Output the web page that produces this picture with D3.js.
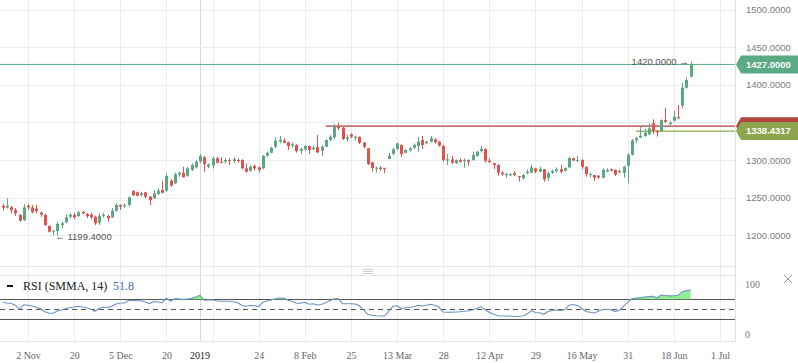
<!DOCTYPE html>
<html>
<head>
<meta charset="utf-8">
<script src="https://cdn.jsdelivr.net/npm/d3@7"></script>
<style>
  body { margin: 0; background: #fff; }
  svg { display: block; }
</style>
</head>
<body>
<svg id="chart" width="798" height="363"></svg>
<script>
// Daily candles, bar index 0 = first visible day
const opens = [1239.3,1237.0,1237.2,1233.6,1227.0,1220.3,1239.3,1237.0,1235.6,1230.3,
1227.0,1212.4,1204.8,1205.7,1213.7,1217.3,1224.7,1227.0,1225.6,1231.0,
1228.3,1227.4,1224.7,1216.7,1225.6,1225.6,1223.9,1232.7,1240.3,1238.6,
1240.3,1258.5,1257.1,1253.5,1257.1,1251.3,1249.2,1254.9,1260.2,1259.3,
1272.5,1269.1,1281.0,1283.2,1279.2,1286.8,1290.3,1297.8,1303.6,1291.1,
1292.7,1302.3,1297.8,1297.8,1300.0,1298.7,1300.0,1300.0,1289.0,1285.8,
1292.1,1290.3,1289.0,1305.8,1309.7,1317.7,1324.4,1325.7,1323.6,1319.0,
1320.0,1312.4,1314.3,1318.6,1314.3,1316.9,1312.4,1317.7,1326.6,1330.2,
1345.2,1343.0,1327.9,1334.2,1329.7,1331.0,1323.0,1315.6,1297.0,1289.0,
1289.8,1289.0,1301.4,1308.0,1314.7,1320.0,1309.7,1313.3,1316.4,1318.6,
1326.6,1322.2,1324.4,1327.5,1324.4,1318.6,1299.1,1301.0,1295.7,1300.0,
1298.7,1300.0,1300.0,1305.4,1312.0,1314.7,1299.1,1295.7,1293.4,1283.2,
1280.1,1279.7,1282.4,1278.8,1275.7,1282.4,1283.2,1289.0,1284.5,1287.7,
1276.5,1283.2,1285.4,1287.7,1285.8,1290.3,1302.3,1298.7,1300.0,1290.7,
1280.1,1280.1,1279.0,1276.5,1284.8,1287.7,1286.8,1283.7,1282.8,1292.5,
1307.1,1326.2,1329.7,1331.9,1334.2,1348.8,1338.6,1338.6,1353.2,1347.9,
1352.3,1356.8,1372.2,1396.1,1410.7];

const highs = [1242.2,1249.2,1239.0,1236.3,1228.3,1241.6,1241.6,1240.3,1240.3,1231.6,
1228.3,1213.0,1207.0,1218.0,1218.0,1228.3,1229.2,1230.0,1232.7,1232.3,
1229.6,1230.0,1226.3,1229.2,1230.0,1227.6,1235.9,1242.5,1241.2,1242.5,
1251.3,1260.2,1258.2,1257.5,1257.5,1252.2,1260.2,1262.2,1272.5,1282.4,
1274.4,1283.2,1284.5,1291.1,1291.1,1295.7,1300.0,1308.0,1305.4,1295.7,
1304.4,1304.4,1303.6,1302.3,1302.3,1303.6,1302.3,1301.0,1295.7,1293.0,
1294.3,1291.1,1306.7,1311.1,1317.7,1330.2,1331.9,1328.9,1324.4,1323.0,
1320.9,1316.4,1320.0,1319.3,1319.0,1333.3,1320.0,1327.5,1332.9,1347.9,
1349.6,1344.3,1333.3,1335.5,1332.3,1331.0,1324.4,1315.6,1297.8,1291.1,
1292.1,1289.8,1309.7,1316.4,1323.0,1320.9,1314.3,1317.7,1322.2,1331.0,
1331.9,1325.7,1331.9,1328.9,1325.3,1320.0,1308.0,1305.4,1300.7,1302.3,
1302.3,1301.0,1311.1,1312.0,1318.6,1315.6,1302.3,1296.5,1294.3,1285.4,
1283.2,1282.4,1285.4,1278.8,1281.4,1287.7,1293.4,1289.8,1291.1,1287.7,
1284.5,1287.7,1290.3,1293.4,1290.3,1304.4,1303.1,1305.4,1301.4,1291.6,
1283.7,1280.1,1280.1,1289.0,1289.0,1289.0,1287.7,1287.7,1292.1,1309.0,
1327.8,1331.0,1345.2,1341.2,1348.8,1354.1,1339.9,1354.1,1369.5,1351.9,
1365.1,1373.1,1402.7,1409.9,1430.6];

const lows = [1233.0,1235.6,1229.2,1225.6,1218.1,1219.0,1233.6,1229.2,1229.2,1224.3,
1212.4,1203.7,1200.0,1199.4,1209.3,1216.0,1222.6,1221.7,1224.3,1227.6,
1222.6,1221.7,1213.7,1213.7,1223.6,1218.1,1223.0,1231.4,1233.6,1236.7,
1238.0,1252.2,1251.5,1251.5,1249.2,1240.3,1248.2,1253.5,1255.5,1257.9,
1264.6,1268.2,1277.9,1277.1,1277.9,1285.4,1289.0,1295.7,1284.5,1289.0,
1289.0,1295.7,1295.7,1295.7,1293.4,1295.7,1296.5,1287.7,1283.2,1284.5,
1285.8,1283.2,1287.7,1304.4,1308.9,1315.6,1322.2,1322.2,1313.3,1316.4,
1309.7,1308.0,1312.4,1308.0,1313.3,1309.3,1305.4,1317.3,1325.3,1327.5,
1339.9,1326.6,1324.4,1328.9,1325.7,1321.3,1315.6,1293.4,1284.5,1283.2,
1285.8,1282.4,1301.0,1306.3,1313.3,1304.4,1308.9,1311.1,1314.7,1311.1,
1314.7,1320.9,1323.6,1322.2,1317.7,1297.8,1293.4,1294.7,1294.7,1296.5,
1289.8,1292.5,1299.1,1304.4,1309.7,1296.5,1295.7,1288.1,1279.2,1279.2,
1276.5,1278.8,1278.8,1271.2,1274.4,1281.0,1282.4,1282.4,1283.7,1271.2,
1272.1,1281.4,1283.2,1282.4,1284.5,1289.0,1298.7,1297.0,1288.1,1277.9,
1276.5,1272.1,1274.8,1275.7,1283.7,1285.0,1278.8,1282.4,1276.5,1269.1,
1306.0,1322.2,1328.9,1330.6,1333.3,1334.6,1331.0,1337.2,1348.8,1345.2,
1350.9,1354.5,1368.7,1394.8,1409.9];

const closes = [1236.7,1239.3,1233.6,1229.2,1219.4,1237.2,1237.2,1230.6,1232.3,1227.6,
1213.7,1204.8,1206.1,1215.0,1216.0,1223.9,1227.4,1223.9,1230.6,1229.2,
1225.6,1223.9,1215.9,1225.6,1227.0,1222.6,1232.7,1240.3,1238.0,1240.0,
1250.5,1253.5,1252.6,1255.8,1251.3,1246.9,1255.8,1259.3,1256.6,1278.8,
1265.9,1281.0,1283.2,1277.1,1289.0,1293.4,1297.8,1305.4,1294.7,1294.1,
1302.3,1296.5,1296.5,1300.0,1298.7,1301.0,1298.7,1289.0,1284.5,1291.1,
1289.0,1286.8,1305.4,1309.7,1316.4,1325.7,1326.6,1323.0,1318.6,1320.9,
1312.0,1314.7,1318.6,1313.3,1316.4,1310.3,1317.7,1326.6,1331.0,1345.2,
1342.2,1327.9,1330.2,1331.0,1331.0,1323.0,1317.7,1294.7,1289.4,1289.8,
1288.1,1287.7,1305.8,1314.3,1322.2,1308.0,1313.3,1315.6,1320.0,1324.4,
1320.0,1324.4,1328.9,1323.6,1319.0,1300.0,1301.0,1296.5,1300.0,1297.8,
1300.0,1297.8,1306.7,1311.1,1314.7,1299.1,1297.4,1293.4,1283.2,1281.0,
1281.4,1281.0,1280.1,1277.9,1280.1,1284.5,1290.3,1284.5,1288.1,1274.4,
1282.4,1285.4,1287.7,1284.5,1289.4,1302.7,1299.4,1300.0,1291.1,1281.4,
1281.4,1276.5,1277.0,1286.8,1286.8,1285.8,1280.8,1285.4,1291.1,1307.1,
1326.2,1328.9,1332.3,1336.3,1342.2,1338.6,1336.8,1353.2,1350.9,1349.6,
1357.6,1355.4,1396.1,1406.3,1427.0];

const rsiValues = [64,62.5,61.5,58,51,59,58,56.5,54,51,
45,42,42,46.5,48.5,51.5,53,54.5,56,54.5,
53,50,46,52,54.5,53.5,56,60.5,62.6,62.6,
67.5,68,67.2,67,64.5,61.5,65.5,64.6,63.2,72,
66.5,71,70.8,69.5,70.5,72,74.5,78,68,68.6,
69.2,67,66,66,66,65,63,58,56,57.5,
57,56,64,67,68.5,71,72.6,72.6,68,66,
62,62,64,60,61,58.5,59.5,63.5,67.2,71,
71,61.2,61.2,61,60.6,57,49,40,38,37,
36.6,36.6,46,56,57,51.5,53,54,55,58,
56.5,58,60,58,54,44.6,44.2,44,44.5,45,
46,47,48.5,52,55,49,44,40.5,37.2,36.7,
36.6,36.6,35.5,35.5,37,40.5,47,43.5,43,40,
45.5,47.5,48.6,47.5,49,58,59.5,57.8,52,45.5,
44,42.5,46,49.5,50,49,45.5,48,56,64,
71,72.5,73.3,74.5,75.5,76,73,78.6,77.5,76.8,
77,78,85.2,87.3,88.6];

// time axis: bar index of each tick and its label
const dateTicks = [6,17,28,39,50,61,72,83,94,105,116,127,138,149,160,171];
const dateLabels = ["2 Nov","20","5 Dec","20","","24","8 Feb","25","13 Mar","28","12 Apr","29","16 May","31","18 Jun","1 Jul"];
const yearTick = 47;
const yearLabel = "2019";

// price grid every 50; the 1350 label sits under the price tags
const priceTicks = [1200,1250,1300,1350,1400,1450,1500];
const priceLabels = [1200,1250,1300,1400,1450,1500];
const rsiTicks = [0, 100];
const rsiBands = [30, 50, 70];

// horizontal lines
const lastPrice = 1427.0;
const resistance = { value: 1345.0, fromBar: 77 };
const avgPrice = { value: 1338.4317, fromBar: 151 };
const highMarkText = "1420.0000";
const lowMarkText = "1199.4000";
const rsiLegendValue = "51.8";

const W = 798, plotRight = 735;
const svg = d3.select("#chart");

const x = d3.scaleLinear().domain([6, 171]).range([28, 720]);
const y = d3.scaleLinear().domain([1200, 1500]).range([235.3, 9.5]);
const yr = d3.scaleLinear().domain([0, 100]).range([334.3, 284.3]);

const up = "#5ba883", down = "#e0524e", grid = "#eaedf0";
const sans = "'Liberation Sans', Arial, sans-serif";
const serif = "'Liberation Serif', 'Times New Roman', serif";

const bars = d3.range(closes.length).map(i => ({
  i, o: opens[i], h: highs[i], l: lows[i], c: closes[i]
}));

// ---- grid ----
const g = svg.append("g");
g.selectAll(".vg").data(dateTicks).enter().append("line")
  .attr("x1", d => Math.round(x(d)) + 0.5).attr("x2", d => Math.round(x(d)) + 0.5)
  .attr("y1", 0).attr("y2", 342)
  .attr("stroke", grid);
g.append("line")
  .attr("x1", Math.round(x(yearTick)) + 0.5).attr("x2", Math.round(x(yearTick)) + 0.5)
  .attr("y1", 0).attr("y2", 342)
  .attr("stroke", "#d4d7db");
g.selectAll(".hg").data(priceTicks).enter().append("line")
  .attr("x1", 0).attr("x2", plotRight)
  .attr("y1", d => Math.round(y(d)) + 0.5).attr("y2", d => Math.round(y(d)) + 0.5)
  .attr("stroke", grid);

// pane borders
[266.5, 275.5, 341.5].forEach(yy => {
  g.append("line").attr("x1", 0).attr("x2", plotRight).attr("y1", yy).attr("y2", yy)
    .attr("stroke", "#e3e6ea");
});
g.append("line").attr("x1", plotRight + 0.5).attr("x2", plotRight + 0.5)
  .attr("y1", 0).attr("y2", 342).attr("stroke", "#dcdfe3");

// pane resize handle
[269.5, 271.5, 273.5].forEach(yy => {
  g.append("line").attr("x1", 363).attr("x2", 373).attr("y1", yy).attr("y2", yy)
    .attr("stroke", "#c8cbcf");
});

// ---- price lines ----
svg.append("line")
  .attr("x1", 0).attr("x2", plotRight)
  .attr("y1", y(lastPrice)).attr("y2", y(lastPrice))
  .attr("stroke", "#5aaa84");
svg.append("line")
  .attr("x1", x(resistance.fromBar)).attr("x2", plotRight)
  .attr("y1", y(resistance.value)).attr("y2", y(resistance.value))
  .attr("stroke", "#b23b3b").attr("stroke-width", 1.3);
svg.append("line")
  .attr("x1", x(avgPrice.fromBar)).attr("x2", plotRight)
  .attr("y1", y(avgPrice.value)).attr("y2", y(avgPrice.value))
  .attr("stroke", "#8aa84c").attr("stroke-width", 1.3);

// ---- candles ----
const cg = svg.append("g");
const candle = cg.selectAll(".candle").data(bars).enter().append("g");
candle.append("line")
  .attr("x1", d => Math.round(x(d.i)) + 0.5).attr("x2", d => Math.round(x(d.i)) + 0.5)
  .attr("y1", d => y(d.h)).attr("y2", d => y(d.l))
  .attr("stroke", d => d.c >= d.o ? up : down);
candle.append("rect")
  .attr("x", d => Math.round(x(d.i)) - 1)
  .attr("width", 3)
  .attr("y", d => y(Math.max(d.o, d.c)))
  .attr("height", d => Math.max(1, Math.abs(y(d.o) - y(d.c))))
  .attr("fill", d => d.c >= d.o ? up : down);

// high / low markers
const hiBar = bars.reduce((a, b) => b.h > a.h ? b : a);
const loBar = bars.reduce((a, b) => b.l < a.l ? b : a);
svg.append("text")
  .attr("x", x(hiBar.i) - 2).attr("y", y(hiBar.h)).attr("dy", "0.35em")
  .attr("text-anchor", "end")
  .attr("font-family", sans).attr("font-size", 9.5).attr("fill", "#555")
  .text(highMarkText + " \u2192");
svg.append("text")
  .attr("x", x(loBar.i) - 2).attr("y", y(loBar.l) + 1).attr("dy", "0.35em")
  .attr("font-family", sans).attr("font-size", 9.5).attr("fill", "#555")
  .text("\u2190 " + lowMarkText);

// ---- price axis ----
const yAxis = svg.append("g")
  .attr("transform", "translate(746,0)")
  .call(d3.axisRight(y).tickValues(priceLabels).tickFormat(d3.format(".4f")).tickSize(0).tickPadding(0));
yAxis.select(".domain").remove();
yAxis.selectAll("text").attr("font-family", sans).attr("font-size", 9.5).attr("fill", "#7d7d7d");

// price tags on the axis
function tag(value, fill, label) {
  const cy = y(value), hh = 9;
  svg.append("path")
    .attr("d", `M${plotRight + 1},${cy} L${plotRight + 6},${cy - hh} H${W} V${cy + hh} H${plotRight + 6} Z`)
    .attr("fill", fill);
  if (label) {
    svg.append("text")
      .attr("x", 746).attr("y", cy).attr("dy", "0.35em")
      .attr("font-family", sans).attr("font-size", 9.5).attr("font-weight", "bold")
      .attr("fill", "#fff").text(label);
  }
}
tag(resistance.value, "#b0463f", null);
tag(avgPrice.value, "#8ca54e", d3.format(".4f")(avgPrice.value));
tag(lastPrice, "#5aaa84", d3.format(".4f")(lastPrice));

// ---- RSI pane ----
rsiBands.forEach(v => {
  svg.append("line")
    .attr("x1", 0).attr("x2", plotRight)
    .attr("y1", Math.round(yr(v)) + 0.5).attr("y2", Math.round(yr(v)) + 0.5)
    .attr("stroke", "#555")
    .attr("stroke-dasharray", v === 50 ? "5,4" : null);
});

const rsiArea = d3.area()
  .x((d, i) => x(i))
  .y0(yr(70))
  .y1(d => yr(Math.max(d, 70)));
svg.append("path").datum(rsiValues)
  .attr("d", rsiArea)
  .attr("fill", "#8ef08e");

const rsiLine = d3.line().x((d, i) => x(i)).y(d => yr(d));
svg.append("path").datum(rsiValues)
  .attr("d", rsiLine)
  .attr("fill", "none").attr("stroke", "#6a93c8").attr("stroke-width", 1.1);

const rAxis = svg.append("g")
  .attr("transform", "translate(745,0)")
  .call(d3.axisRight(yr).tickValues(rsiTicks).tickFormat(d3.format("d")).tickSize(0).tickPadding(0));
rAxis.select(".domain").remove();
rAxis.selectAll("text").attr("font-family", serif).attr("font-size", 10).attr("fill", "#777");

// legend
svg.append("line").attr("x1", 7).attr("x2", 13).attr("y1", 286).attr("y2", 286)
  .attr("stroke", "#111").attr("stroke-width", 2);
svg.append("text").attr("x", 23).attr("y", 290)
  .attr("font-family", serif).attr("font-size", 12).attr("fill", "#222")
  .text("RSI (SMMA, 14)");
svg.append("text").attr("x", 113).attr("y", 290)
  .attr("font-family", serif).attr("font-size", 12).attr("fill", "#3d6fb5")
  .text(rsiLegendValue);

// close icon
svg.append("path").attr("d", "M784,275 L792,283 M792,275 L784,283")
  .attr("stroke", "#999").attr("stroke-width", 1);

// ---- time axis ----
const xAxis = svg.append("g")
  .attr("transform", "translate(0,351.5)")
  .call(d3.axisBottom(x).tickValues(dateTicks).tickFormat((d, i) => dateLabels[i]).tickSize(0).tickPadding(0));
xAxis.select(".domain").remove();
xAxis.selectAll("text").attr("font-family", serif).attr("font-size", 10).attr("fill", "#666");
svg.append("text")
  .attr("x", x(yearTick)).attr("y", 351.5).attr("dy", "0.71em")
  .attr("text-anchor", "middle")
  .attr("font-family", serif).attr("font-size", 10).attr("fill", "#222")
  .text(yearLabel);
</script>
</body>
</html>
